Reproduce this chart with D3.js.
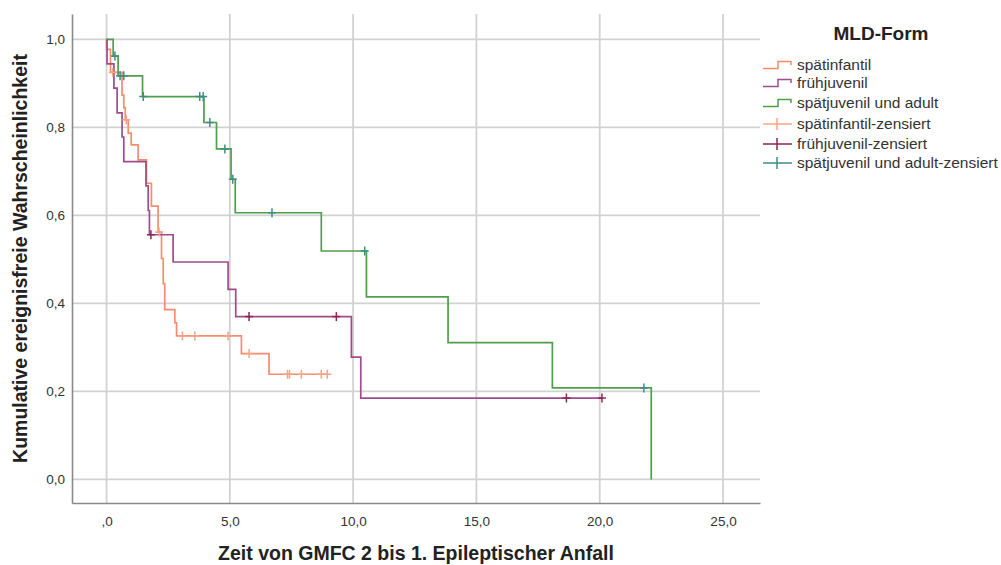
<!DOCTYPE html>
<html>
<head>
<meta charset="utf-8">
<script src="https://cdn.jsdelivr.net/npm/d3@7/dist/d3.min.js"></script>
<style>
  html, body { margin: 0; padding: 0; background: #fff; }
  svg { display: block; font-family: "Liberation Sans", Arial, sans-serif; }
</style>
</head>
<body>
<svg id="chart" width="1001" height="565"></svg>
<script>
// Kaplan-Meier curves: time to first epileptic seizure after GMFC 2, by MLD form

const groups = ["spätinfantil", "frühjuvenil", "spätjuvenil und adult"];

// spätinfantil
const infEventTimes = [0.0, 0.16, 0.63, 0.70, 0.76, 0.88, 1.00, 1.28, 1.62, 1.82, 2.09, 2.23, 2.30, 2.36, 2.77, 2.84, 5.47, 6.59];
const infSurvival   = [0.977, 0.925, 0.873, 0.845, 0.817, 0.787, 0.760, 0.726, 0.673, 0.621, 0.562, 0.502, 0.445, 0.386, 0.356, 0.326, 0.286, 0.239];
const infCensored   = [0.25, 0.80, 2.13, 3.08, 3.58, 4.93, 5.78, 7.34, 7.42, 7.90, 8.71, 8.95];

// frühjuvenil
const juvEventTimes = [0.02, 0.30, 0.43, 0.63, 0.70, 1.60, 1.69, 1.74, 2.70, 4.93, 5.24, 9.93, 10.31];
const juvSurvival   = [0.944, 0.889, 0.833, 0.778, 0.722, 0.667, 0.611, 0.556, 0.494, 0.432, 0.370, 0.278, 0.185];
const juvCensored   = [1.80, 5.78, 9.32, 18.65, 20.09];

// spätjuvenil und adult
const adEventTimes = [0.27, 0.47, 1.46, 3.95, 4.46, 5.05, 5.22, 8.71, 10.54, 13.85, 18.08, 22.09];
const adSurvival   = [0.962, 0.917, 0.870, 0.811, 0.751, 0.682, 0.606, 0.519, 0.415, 0.311, 0.208, 0.0];
const adCensored   = [0.34, 0.55, 0.70, 1.49, 3.78, 3.92, 4.19, 4.80, 5.12, 6.71, 10.47, 21.79];

const xTickValues = [0, 5, 10, 15, 20, 25];
const xTickLabels = [",0", "5,0", "10,0", "15,0", "20,0", "25,0"];
const yTickValues = [0, 0.2, 0.4, 0.6, 0.8, 1.0];
const yTickLabels = ["0,0", "0,2", "0,4", "0,6", "0,8", "1,0"];

const legendLabels = [
  "spätinfantil", "frühjuvenil", "spätjuvenil und adult",
  "spätinfantil-zensiert", "frühjuvenil-zensiert", "spätjuvenil und adult-zensiert"
];

const lineColors   = ["#f78c6c", "#a04c8c", "#4f9e4b"];
const censorColors = ["#f9a385", "#8e2456", "#3f8d82"];

const series = [
  { events: infEventTimes, surv: infSurvival, cens: infCensored },
  { events: juvEventTimes, surv: juvSurvival, cens: juvCensored },
  { events: adEventTimes,  surv: adSurvival,  cens: adCensored }
];

const svg = d3.select("#chart");

const plot = { left: 72, right: 760, top: 14, bottom: 503 };
const x = d3.scaleLinear().domain([-1.4, 26.5]).range([plot.left, plot.right]);
const y = d3.scaleLinear().domain([-0.0535, 1.0575]).range([plot.bottom, plot.top]);

// grid
const grid = svg.append("g").attr("stroke", "#d2d2d2").attr("stroke-width", 1.8);
grid.selectAll("line.v").data(xTickValues).join("line")
  .attr("x1", d => x(d)).attr("x2", d => x(d))
  .attr("y1", plot.top).attr("y2", plot.bottom);
grid.selectAll("line.h").data(yTickValues).join("line")
  .attr("x1", plot.left).attr("x2", plot.right)
  .attr("y1", d => y(d)).attr("y2", d => y(d));

// axes
const xAxis = d3.axisBottom(x).tickValues(xTickValues)
  .tickFormat((d, i) => xTickLabels[i]).tickSize(0).tickSizeOuter(0).tickPadding(13);
const yAxis = d3.axisLeft(y).tickValues(yTickValues)
  .tickFormat((d, i) => yTickLabels[i]).tickSize(0).tickSizeOuter(0).tickPadding(7);

const gx = svg.append("g").attr("transform", `translate(0,${plot.bottom})`).call(xAxis);
const gy = svg.append("g").attr("transform", `translate(${plot.left},0)`).call(yAxis);
[gx, gy].forEach(g => {
  g.select(".domain").attr("stroke", "#8a8a8a").attr("stroke-width", 1.6);
  g.selectAll("text").attr("fill", "#333").style("font-size", "13.5px")
    .style("font-family", "'Liberation Sans', Arial, sans-serif");
});

// survival step paths
function stepPoints(s) {
  const pts = [[0, 1]];
  let cur = 1;
  s.events.forEach((t, i) => {
    pts.push([t, cur]);
    cur = s.surv[i];
    pts.push([t, cur]);
  });
  const lastEvent = s.events[s.events.length - 1];
  const lastCens = d3.max(s.cens);
  if (cur > 0 && lastCens > lastEvent) pts.push([lastCens, cur]);
  return pts;
}
function survivalAt(s, t) {
  let cur = 1;
  s.events.forEach((e, i) => { if (e <= t) cur = s.surv[i]; });
  return cur;
}

const line = d3.line().x(d => x(d[0])).y(d => y(d[1]));

series.forEach((s, i) => {
  svg.append("path")
    .attr("d", line(stepPoints(s)))
    .attr("fill", "none")
    .attr("stroke", lineColors[i])
    .attr("stroke-width", 1.7);
});

// censoring marks
series.forEach((s, i) => {
  const g = svg.append("g").attr("stroke", censorColors[i]).attr("stroke-width", 1.5);
  s.cens.forEach(t => {
    const cx = x(t), cy = y(survivalAt(s, t));
    g.append("line").attr("x1", cx).attr("x2", cx).attr("y1", cy - 4.5).attr("y2", cy + 4.5);
    g.append("line").attr("x1", cx - 4).attr("x2", cx + 4).attr("y1", cy).attr("y2", cy);
  });
});

// axis titles
const plotMidX = (plot.left + plot.right) / 2;
const plotMidY = (plot.top + plot.bottom) / 2;

svg.append("text")
  .attr("x", plotMidX).attr("y", 560)
  .attr("text-anchor", "middle")
  .style("font-size", "19.5px").style("font-weight", "bold").attr("fill", "#222")
  .text("Zeit von GMFC 2 bis 1. Epileptischer Anfall");

svg.append("text")
  .attr("transform", `translate(27,${plotMidY}) rotate(-90)`)
  .attr("text-anchor", "middle")
  .style("font-size", "19.5px").style("font-weight", "bold").attr("fill", "#222")
  .text("Kumulative ereignisfreie Wahrscheinlichkeit");

// legend
const legend = svg.append("g");
legend.append("text")
  .attr("x", 881).attr("y", 40)
  .attr("text-anchor", "middle")
  .style("font-size", "19px").style("font-weight", "bold").attr("fill", "#222")
  .text("MLD-Form");

const rowY = [65, 83, 103, 124, 144, 163];
legendLabels.forEach((label, i) => {
  const cy = rowY[i];
  const k = i % 3;
  if (i < 3) {
    legend.append("path")
      .attr("d", `M763,${cy + 3.5} H778 V${cy - 3.5} H791 V${cy}`)
      .attr("fill", "none").attr("stroke", lineColors[k]).attr("stroke-width", 1.5);
  } else {
    legend.append("line").attr("x1", 763).attr("x2", 792).attr("y1", cy).attr("y2", cy)
      .attr("stroke", censorColors[k]).attr("stroke-width", 1.5);
    legend.append("line").attr("x1", 777).attr("x2", 777).attr("y1", cy - 6).attr("y2", cy + 6)
      .attr("stroke", censorColors[k]).attr("stroke-width", 1.5);
  }
  legend.append("text")
    .attr("x", 797).attr("y", cy).attr("dy", "0.35em")
    .style("font-size", "15.5px").attr("fill", "#333")
    .text(label);
});
</script>
</body>
</html>
